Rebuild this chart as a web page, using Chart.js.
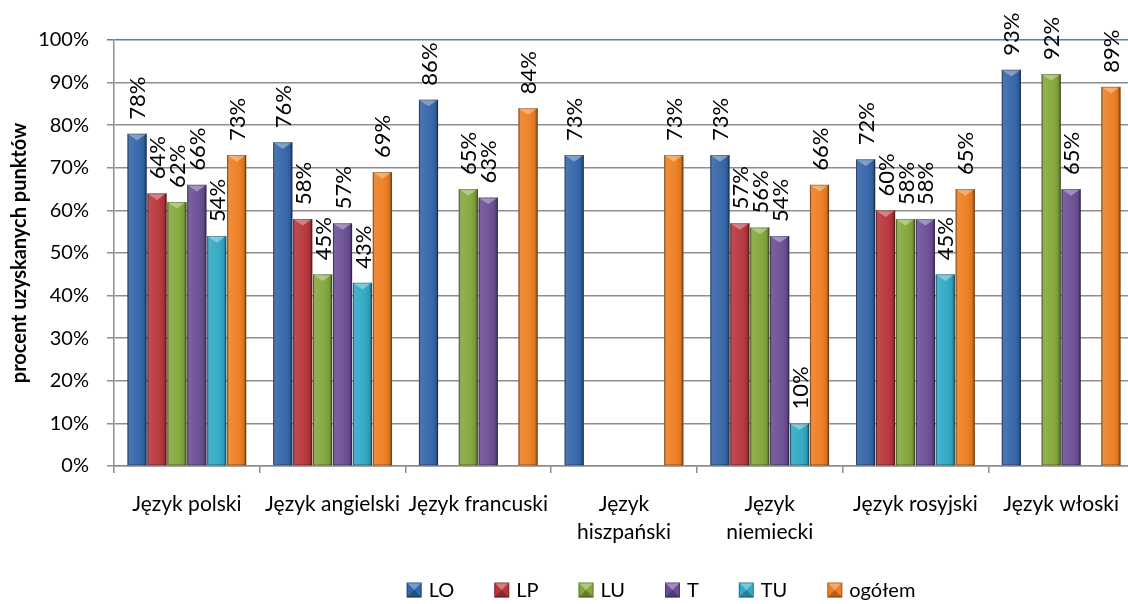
<!DOCTYPE html>
<html>
<head>
<meta charset="utf-8">
<title>procent uzyskanych punktów</title>
<script src="https://cdn.jsdelivr.net/npm/chart.js"></script>
<style>
  html, body { margin: 0; padding: 0; background: #fff; overflow: hidden; }
</style>
</head>
<body>
<canvas id="chart" width="1140" height="604"></canvas>
<script>
// categories and series (values in %)
const categories = ['Język polski', 'Język angielski', 'Język francuski', ['Język', 'hiszpański'], ['Język', 'niemiecki'], 'Język rosyjski', 'Język włoski'];
const seriesNames = ['LO', 'LP', 'LU', 'T', 'TU', 'ogółem'];
const LO     = [78, 76, 86, 73, 73, 72, 93];
const LP     = [64, 58, null, null, 57, 60, null];
const LU     = [62, 45, 65, null, 56, 58, 92];
const T      = [66, 57, 63, null, 54, 58, 65];
const TU     = [54, 43, null, null, 10, 45, null];
const ogolem = [73, 69, 84, 73, 66, 65, 89];
const yMax = 100;
const yStep = 10;

const seriesValues = [LO, LP, LU, T, TU, ogolem];
const colors = ['#3566a9', '#b8363b', '#84a83c', '#6b4f96', '#32a9c6', '#ee7f22'];
const FONT = 'Lato, "Open Sans", sans-serif';

// bevel look: dark edges, lighter pointed top
const bevelPlugin = {
    id: 'bevel',
    afterDatasetsDraw(chart) {
        const ctx = chart.ctx;
        chart.data.datasets.forEach((ds, i) => {
            const meta = chart.getDatasetMeta(i);
            meta.data.forEach((bar, j) => {
                if (ds.data[j] == null) return;
                const l = bar.x - bar.width / 2, r = bar.x + bar.width / 2;
                const top = bar.y, base = bar.base;
                const g = ctx.createLinearGradient(l, 0, r, 0);
                g.addColorStop(0, 'rgba(0,0,0,0.35)');
                g.addColorStop(0.12, 'rgba(255,255,255,0.10)');
                g.addColorStop(0.5, 'rgba(255,255,255,0.04)');
                g.addColorStop(0.85, 'rgba(0,0,0,0.08)');
                g.addColorStop(1, 'rgba(0,0,0,0.45)');
                ctx.save();
                ctx.fillStyle = g;
                ctx.fillRect(l, top, r - l, base - top);
                const h = Math.min(bar.width * 0.35, base - top);
                ctx.beginPath();
                ctx.moveTo(l, top);
                ctx.lineTo(r, top);
                ctx.lineTo(bar.x, top + h);
                ctx.closePath();
                ctx.fillStyle = 'rgba(255,255,255,0.35)';
                ctx.fill();
                ctx.strokeStyle = 'rgba(0,0,0,0.25)';
                ctx.lineWidth = 1;
                ctx.strokeRect(l + 0.5, top + 0.5, r - l - 1, base - top - 1);
                ctx.restore();
            });
        });
    }
};

// vertical value labels above the bars
const labelPlugin = {
    id: 'valueLabels',
    afterDatasetsDraw(chart) {
        const ctx = chart.ctx;
        ctx.save();
        ctx.font = '22px ' + FONT;
        ctx.fillStyle = '#000';
        ctx.textAlign = 'left';
        ctx.textBaseline = 'middle';
        chart.data.datasets.forEach((ds, i) => {
            chart.getDatasetMeta(i).data.forEach((bar, j) => {
                const v = ds.data[j];
                if (v == null) return;
                ctx.save();
                ctx.translate(bar.x + 1, bar.y - 14);
                ctx.rotate(-Math.PI / 2);
                ctx.fillText(v + '%', 0, 0);
                ctx.restore();
            });
        });
        ctx.restore();
    }
};

// legend drawn at the bottom, centred like the original
const legendPlugin = {
    id: 'bottomLegend',
    afterDraw(chart) {
        const ctx = chart.ctx;
        ctx.save();
        ctx.font = '20px ' + FONT;
        const box = 15, gap = 7, spacing = 40;
        const widths = seriesNames.map(n => ctx.measureText(n).width);
        const total = widths.reduce((a, w) => a + box + gap + w, 0) + spacing * (seriesNames.length - 1);
        let x = 661 - total / 2;
        const cy = 590;
        seriesNames.forEach((n, i) => {
            const y0 = cy - box / 2;
            ctx.fillStyle = colors[i];
            ctx.fillRect(x, y0, box, box);
            // pyramid facets
            ctx.fillStyle = 'rgba(255,255,255,0.35)';
            ctx.beginPath(); ctx.moveTo(x, y0); ctx.lineTo(x + box, y0); ctx.lineTo(x + box / 2, y0 + box / 2); ctx.closePath(); ctx.fill();
            ctx.fillStyle = 'rgba(0,0,0,0.25)';
            ctx.beginPath(); ctx.moveTo(x, y0 + box); ctx.lineTo(x + box, y0 + box); ctx.lineTo(x + box / 2, y0 + box / 2); ctx.closePath(); ctx.fill();
            ctx.strokeStyle = 'rgba(0,0,0,0.3)';
            ctx.lineWidth = 1;
            ctx.strokeRect(x + 0.5, y0 + 0.5, box - 1, box - 1);
            ctx.fillStyle = '#000';
            ctx.textAlign = 'left';
            ctx.textBaseline = 'middle';
            ctx.fillText(n, x + box + gap, cy + 1);
            x += box + gap + widths[i] + spacing;
        });
        ctx.restore();
    }
};

const chart = new Chart(document.getElementById('chart'), {
    type: 'bar',
    data: {
        labels: categories,
        datasets: seriesNames.map((name, i) => ({
            label: name,
            data: seriesValues[i],
            backgroundColor: colors[i],
            borderWidth: 0,
            barPercentage: 0.96,
            categoryPercentage: 0.82
        }))
    },
    options: {
        responsive: false,
        animation: false,
        devicePixelRatio: 1,
        layout: { padding: { top: 40, right: 6, left: 0, bottom: 0 } },
        plugins: {
            legend: { display: false },
            tooltip: { enabled: false }
        },
        scales: {
            x: {
                afterFit(s) { s.height = 138; },
                grid: {
                    drawOnChartArea: false,
                    color: '#8e8e8e',
                    lineWidth: 1.5,
                    tickLength: 7
                },
                border: { color: '#8e8e8e', width: 1.5 },
                ticks: {
                    color: '#000',
                    font: { family: FONT, size: 21, lineHeight: 1.3 },
                    padding: 18,
                    autoSkip: false,
                    maxRotation: 0
                }
            },
            y: {
                min: 0,
                max: yMax,
                afterFit(s) { s.width = 114; },
                grid: {
                    color: c => (c.tick && c.tick.value === yMax) ? '#4f81bd' : '#8e8e8e',
                    lineWidth: 1.5,
                    tickLength: 7
                },
                border: { color: '#8e8e8e', width: 1.5 },
                ticks: {
                    stepSize: yStep,
                    color: '#000',
                    font: { family: FONT, size: 20 },
                    padding: 18,
                    callback: v => v + '%'
                },
                title: {
                    display: true,
                    text: 'procent uzyskanych punktów',
                    color: '#000',
                    font: { family: FONT, size: 20, weight: 'bold' },
                    padding: { top: 8, bottom: 0 }
                }
            }
        }
    },
    plugins: [bevelPlugin, labelPlugin, legendPlugin]
});
</script>
</body>
</html>
